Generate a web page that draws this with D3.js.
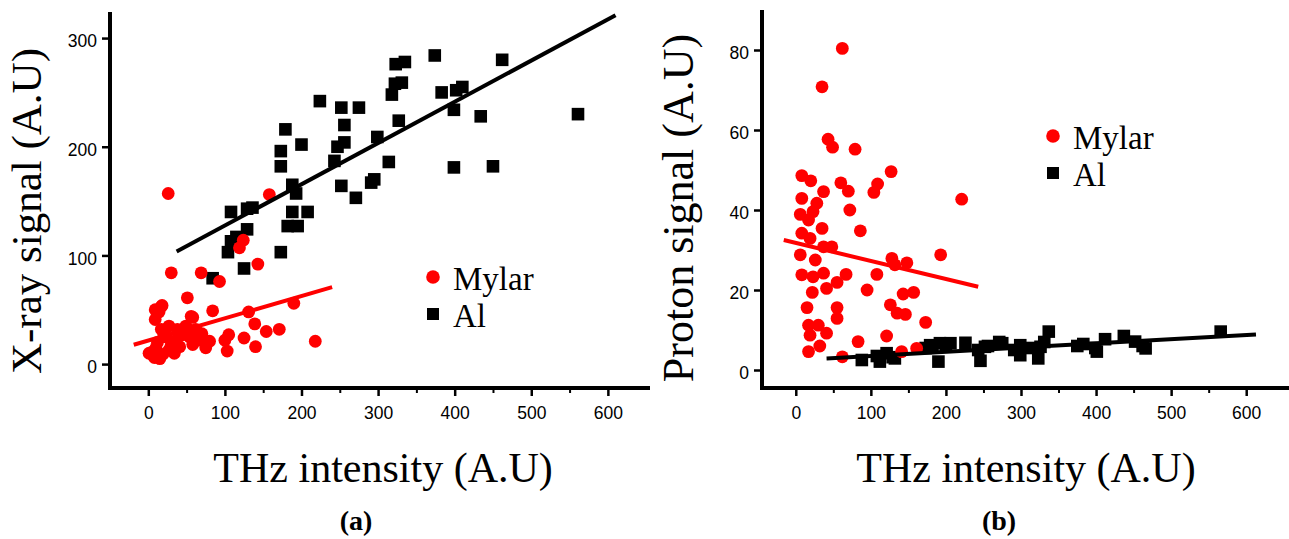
<!DOCTYPE html>
<html>
<head>
<meta charset="utf-8">
<script src="https://cdn.jsdelivr.net/npm/d3@7"></script>
<style>
  body { margin: 0; background: #fff; }
  svg { display: block; }
  .tick text { font-family: "Liberation Sans", Arial, sans-serif; font-size: 17.5px; fill: #000; }
  .title { font-family: "Liberation Serif", "Times New Roman", serif; fill: #000; }
</style>
</head>
<body>
<svg id="chart" width="1289" height="539"></svg>
<script>
// panel (a): X-ray signal vs THz intensity
var mylarA = [[26,157],[158,156],[124,114],[119,107],[143,92],[30,84],[69,84],[93,76],
  [51,61],[17,53],[9,50],[18,54],[14,48],[84,49],[131,48],[190,56],[58,43],[9,41],[56,44],
  [27,35],[38,32],[49,35],[62,32],[17,32],[139,37],[154,30],[171,32],
  [23,25],[36,22],[54,25],[67,22],[80,21],[105,27],[125,24],[218,21],
  [10,15],[27,13],[41,16],[58,18],[75,15],[140,16],[103,12],
  [1,10],[8,6],[5,9],[19,9],[34,10],[12,20],[30,18],[45,27],[20,28],[70,28],[100,22],[7,12],[15,5]];
var alA = [[374,284],[462,280],[323,276],[335,278],[331,259],[322,258],[318,248],[383,250],
  [402,252],[410,255],[399,234],[434,228],[561,230],[224,242],[252,236],[275,236],[256,220],
  [179,216],[200,202],[256,204],[247,200],[299,209],[327,224],[173,196],[173,182],[243,187],
  [314,186],[399,181],[450,182],[188,165],[193,157],[252,164],[291,167],[295,170],[271,153],
  [108,140],[129,143],[136,144],[188,140],[208,140],[182,127],[195,127],[129,124],[108,113],
  [115,117],[104,103],[173,103],[125,88],[84,79]];
var fitA_al = [[37,103.6],[610,321]];
var fitA_mylar = [[-19,17.8],[240,70.8]];

// panel (b): proton signal vs THz intensity
var mylarB = [[62,80.4],[35,70.8],[43,57.7],[49,55.7],[79,55.2],[8,48.6],[20,47.3],[127,49.6],
  [60,46.8],[70,44.7],[109,46.5],[104,44.4],[37,44.6],[8,42.9],[221,42.7],[28,41.7],[23,39.6],
  [72,40],[6,38.9],[17,37.5],[35,35.4],[86,34.8],[8,34.2],[19,32.9],[37,30.8],[48,30.8],
  [6,28.8],[26,27.5],[128,27.9],[132,26.3],[148,26.8],[193,28.8],[8,23.8],[23,23.3],[37,24.2],
  [67,23.9],[108,23.9],[55,21.9],[41,20.4],[22,19.4],[95,20],[143,19],[157,19.4],[15,15.6],
  [55,15.6],[126,16.3],[55,12.9],[135,14.2],[146,13.9],[173,11.9],[17,11.2],[30,11.2],
  [41,9.2],[19,8.7],[121,8.5],[83,7.1],[32,6],[17,4.6],[161,5.4],[141,4.6],[62,3.3]];
var alB = [[88,2.5],[112,2.1],[121,4.2],[132,2.9],[108,3.5],[129,3.2],[179,6.2],[190,2.1],
  [192,6.7],[206,6.7],[226,6.8],[173,5.5],[182,6],[200,6.3],[246,2.3],[252,5.8],[243,5],
  [256,6],[271,7],[275,6.7],[291,5],[299,6.2],[299,3.7],[314,5.5],[323,2.9],[326,5.8],
  [331,7],[337,9.6],[375,6],[383,6.5],[399,5.5],[401,4.6],[412,7.7],[437,8.5],[452,7.1],
  [462,6],[466,5.4],[566,9.6]];
var fitB_mylar = [[-16,32.5],[243,20.8]];
var fitB_al = [[41,2.9],[613,8.9]];

var xTicks = [0, 100, 200, 300, 400, 500, 600];
var xMinor = [50, 150, 250, 350, 450, 550];
var yTicksA = [0, 100, 200, 300];
var yTicksB = [0, 20, 40, 60, 80];

var svg = d3.select("#chart");
var red = "#ff0000";

function panel(opt) {
  var x = d3.scaleLinear().domain(opt.xDom).range(opt.xRange),
      y = d3.scaleLinear().domain(opt.yDom).range(opt.yRange);
  var g = svg.append("g");
  var x0 = opt.xRange[0], yb = opt.yRange[0];

  // minor x ticks
  g.append("g").attr("transform", "translate(0," + yb + ")")
    .call(d3.axisBottom(x).tickValues(xMinor).tickSize(5).tickFormat(""))
    .call(function(a) { a.select(".domain").remove(); a.selectAll("line").attr("stroke-width", 2); });
  g.append("g").attr("transform", "translate(0," + yb + ")")
    .call(d3.axisBottom(x).tickValues(xTicks).tickSize(8).tickPadding(11))
    .call(function(a) { a.select(".domain").remove(); a.selectAll("line").attr("stroke-width", 2.5); });
  g.append("g").attr("transform", "translate(" + x0 + ",0)")
    .call(d3.axisLeft(y).tickValues(opt.yTicks).tickSize(8).tickPadding(5))
    .call(function(a) { a.select(".domain").remove(); a.selectAll("line").attr("stroke-width", 2.5); })
    .selectAll("text").attr("dy", "0.5em");

  // thick axis lines
  g.append("line").attr("x1", x0).attr("x2", x0).attr("y1", opt.yRange[1]).attr("y2", yb + 2)
    .attr("stroke", "#000").attr("stroke-width", 4);
  g.append("line").attr("x1", x0 - 2).attr("x2", opt.xRange[1]).attr("y1", yb).attr("y2", yb)
    .attr("stroke", "#000").attr("stroke-width", 4);

  g.selectAll(".al").data(opt.al).enter().append("rect")
    .attr("x", function(d) { return x(d[0]) - 6.3; })
    .attr("y", function(d) { return y(d[1]) - 6.3; })
    .attr("width", 12.6).attr("height", 12.6).attr("fill", "#000");
  g.selectAll(".my").data(opt.mylar).enter().append("circle")
    .attr("cx", function(d) { return x(d[0]); })
    .attr("cy", function(d) { return y(d[1]); })
    .attr("r", 6.4).attr("fill", red);

  var line = d3.line().x(function(d) { return x(d[0]); }).y(function(d) { return y(d[1]); });
  g.append("path").attr("d", line(opt.fitAl)).attr("stroke", "#000").attr("stroke-width", 4).attr("fill", "none");
  g.append("path").attr("d", line(opt.fitMylar)).attr("stroke", red).attr("stroke-width", 4).attr("fill", "none");

  // legend
  var lg = g.append("g").attr("transform", "translate(" + opt.legend[0] + "," + opt.legend[1] + ")");
  lg.append("circle").attr("cx", 0).attr("cy", 0).attr("r", 6.8).attr("fill", red);
  lg.append("rect").attr("x", -6).attr("y", 31).attr("width", 12).attr("height", 12).attr("fill", "#000");
  lg.append("text").attr("class", "title").attr("x", 20).attr("y", 13).style("font-size", "33px").text("Mylar");
  lg.append("text").attr("class", "title").attr("x", 20).attr("y", 50).style("font-size", "33px").text("Al");

  // titles
  g.append("text").attr("class", "title")
    .attr("transform", "translate(" + opt.yLabelX + "," + opt.yLabelY + ") rotate(-90)")
    .attr("text-anchor", "middle").style("font-size", opt.yLabelSize + "px").text(opt.yLabel);
  var cx = (x(0) + x(600)) / 2 + 5;
  g.append("text").attr("class", "title").attr("x", cx).attr("y", 482)
    .attr("text-anchor", "middle").style("font-size", "42px").text("THz intensity (A.U)");
  g.append("text").attr("class", "title").attr("x", cx - 27).attr("y", 530)
    .attr("text-anchor", "middle").style("font-size", "28px").style("font-weight", "bold").text(opt.tag);
}

panel({ xDom: [-50, 655], xRange: [110, 650], yDom: [-22, 324], yRange: [388, 12],
  yTicks: yTicksA, al: alA, mylar: mylarA, fitAl: fitA_al, fitMylar: fitA_mylar,
  legend: [433, 277], yLabel: "X-ray signal (A.U)", yLabelX: 41, yLabelY: 211, yLabelSize: 43, tag: "(a)" });
panel({ xDom: [-45, 657], xRange: [762, 1289], yDom: [-4.5, 90], yRange: [388, 10],
  yTicks: yTicksB, al: alB, mylar: mylarB, fitAl: fitB_al, fitMylar: fitB_mylar,
  legend: [1053, 136], yLabel: "Proton signal (A.U)", yLabelX: 693, yLabelY: 208, yLabelSize: 44, tag: "(b)" });
</script>
</body>
</html>
